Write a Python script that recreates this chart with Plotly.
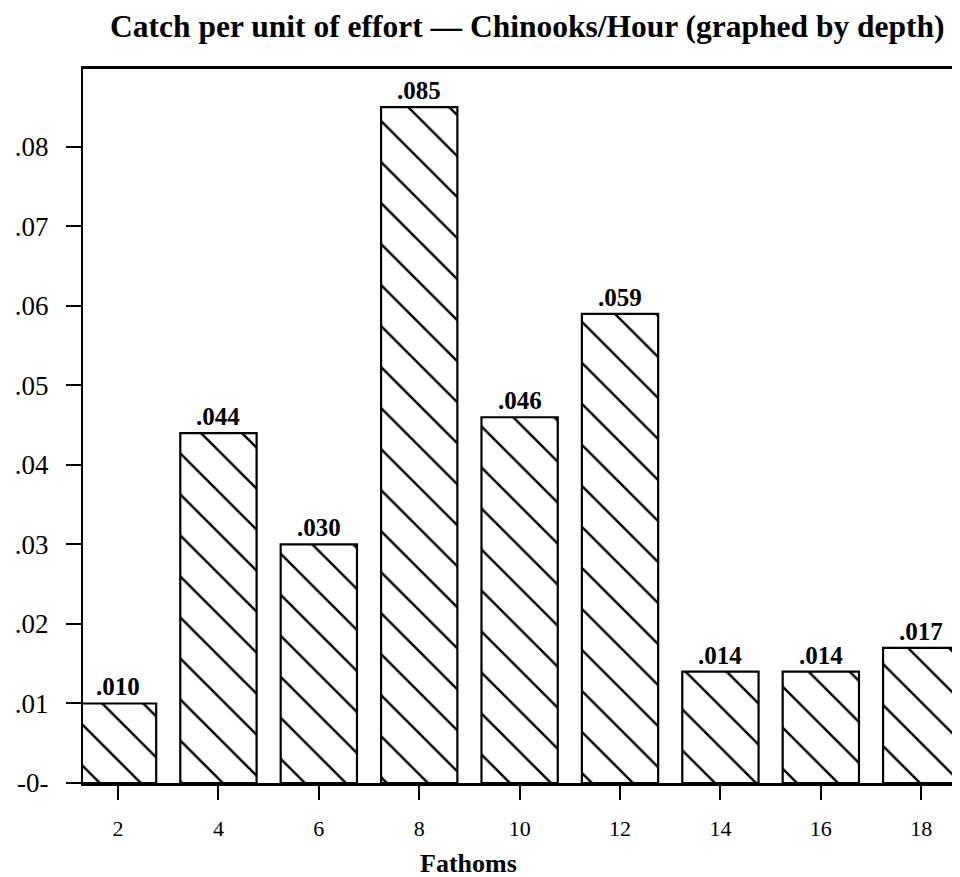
import plotly.graph_objects as go

depths = ["2", "4", "6", "8", "10", "12", "14", "16", "18"]
cpue = [0.010, 0.044, 0.030, 0.085, 0.046, 0.059, 0.014, 0.014, 0.017]
value_labels = [".010", ".044", ".030", ".085", ".046", ".059", ".014", ".014", ".017"]
ytick_vals = [0, 0.01, 0.02, 0.03, 0.04, 0.05, 0.06, 0.07, 0.08]
ytick_text = ["-0-", ".01", ".02", ".03", ".04", ".05", ".06", ".07", ".08"]

SERIF = "Liberation Serif, Times New Roman, serif"

fig = go.Figure(
    go.Bar(
        x=depths,
        y=cpue,
        width=0.76,
        marker=dict(
            color="white",
            line=dict(color="black", width=2.2),
            pattern=dict(shape="\\", size=29, solidity=0.085,
                         fgcolor="black", bgcolor="white", fillmode="replace"),
        ),
        hoverinfo="x+y",
    )
)

# value labels above the bars (category axis positions are indices)
for i, (v, lab) in enumerate(zip(cpue, value_labels)):
    fig.add_annotation(x=i, y=v, text=f"<b>{lab}</b>", showarrow=False,
                       xref="x", yref="y",
                       yanchor="bottom", yshift=1,
                       font=dict(family=SERIF, size=25, color="black"))

fig.add_annotation(xref="paper", yref="paper", x=0.436, y=-0.136,
                   text="<b>Fathoms</b>", showarrow=False,
                   xanchor="center", yanchor="bottom",
                   font=dict(family=SERIF, size=26, color="black"))

fig.update_layout(
    width=960, height=877,
    margin=dict(l=75, r=0, t=61, b=102),
    paper_bgcolor="white", plot_bgcolor="white",
    showlegend=False,
    title=dict(text="<b>Catch per unit of effort — Chinooks/Hour (graphed by depth)</b>",
               x=0.541, xref="container", xanchor="center",
               y=0.979, yref="container", yanchor="middle",
               font=dict(family=SERIF, size=31.5, color="black")),
    xaxis=dict(type="category", range=[-0.349, 8.466],
               showline=True, linecolor="black", linewidth=2.5, mirror=True,
               ticks="outside", ticklen=14, tickwidth=2, tickcolor="black",
               tickfont=dict(family=SERIF, size=22, color="black"),
               ticklabelstandoff=10, showgrid=False),
    yaxis=dict(range=[0, 0.0898], tickvals=ytick_vals, ticktext=ytick_text,
               showline=True, linecolor="black", linewidth=2,
               ticks="outside", ticklen=15, tickwidth=2, tickcolor="black",
               tickfont=dict(family=SERIF, size=27, color="black"),
               ticklabelstandoff=12, showgrid=False, zeroline=False),
)

fig.write_html("out.html")
